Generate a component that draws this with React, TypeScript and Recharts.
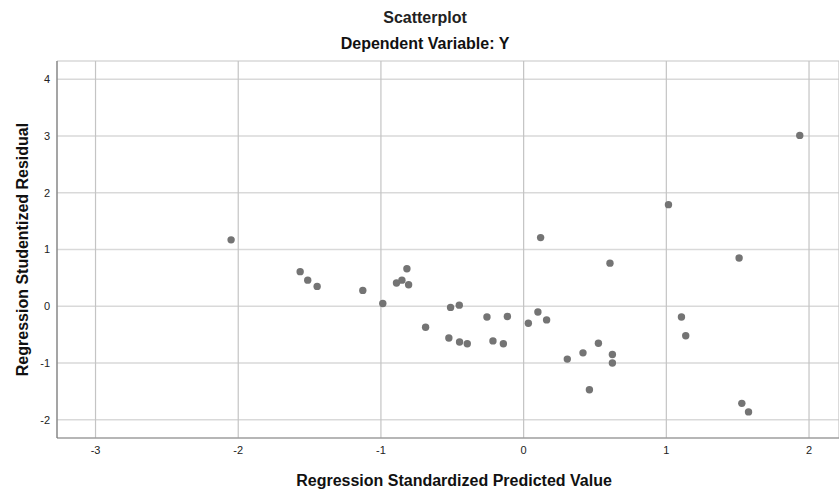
import { ScatterChart, Scatter, XAxis, YAxis, CartesianGrid } from 'recharts';

// standardized predicted value (x) and studentized residual (y), one entry per case
const predicted = [
  -2.05, -1.566, -1.513, -1.447, -1.127, -0.987, -0.891, -0.853, -0.818, -0.806,
  -0.687, -0.524, -0.512, -0.451, -0.449, -0.395, -0.257, -0.215, -0.142, -0.114,
  0.033, 0.1, 0.119, 0.161, 0.306, 0.416, 0.461, 0.524, 0.605, 0.622,
  0.622, 1.015, 1.106, 1.136, 1.51, 1.529, 1.576, 1.935,
];
const residual = [
  1.17, 0.61, 0.46, 0.35, 0.28, 0.05, 0.41, 0.46, 0.66, 0.38,
  -0.37, -0.56, -0.02, 0.02, -0.63, -0.66, -0.19, -0.61, -0.66, -0.18,
  -0.3, -0.1, 1.21, -0.24, -0.93, -0.82, -1.47, -0.65, 0.76, -0.85,
  -1.0, 1.79, -0.19, -0.52, 0.85, -1.71, -1.86, 3.01,
];

const xTicks = [-3, -2, -1, 0, 1, 2];
const yTicks = [-2, -1, 0, 1, 2, 3, 4];

const title = 'Scatterplot';
const subtitle = 'Dependent Variable: Y';
const xLabel = 'Regression Standardized Predicted Value';
const yLabel = 'Regression Studentized Residual';

const data = predicted.map((x, i) => ({ x, y: residual[i] }));

const font = '"Liberation Sans", Arial, sans-serif';

const Dot = (props: any) => <circle cx={props.cx} cy={props.cy} r={3.7} fill="#747474" />;

const App = () => {
  return (
    <div style={{ position: 'absolute', left: 0, top: 0, width: 839, height: 495, background: '#fff', fontFamily: font }}>
      <div style={{ position: 'absolute', left: 0, top: 9, width: 850, textAlign: 'center', fontSize: 16, fontWeight: 'bold', color: '#222', lineHeight: '18px' }}>
        {title}
      </div>
      <div style={{ position: 'absolute', left: 0, top: 35, width: 850, textAlign: 'center', fontSize: 16, fontWeight: 'bold', color: '#111', lineHeight: '18px' }}>
        {subtitle}
      </div>
      <ScatterChart width={839} height={495} margin={{ top: 61, right: 0, bottom: 0, left: 0 }} style={{ fontFamily: font }}>
        <CartesianGrid vertical={false} stroke="#d9d9d9" strokeWidth={1.5} />
        <CartesianGrid horizontal={false} stroke="#c4c4c4" strokeWidth={1.2} />
        <XAxis
          type="number"
          dataKey="x"
          domain={[-3.27, 2.21]}
          ticks={xTicks}
          allowDataOverflow
          height={57}
          axisLine={{ stroke: '#8a8a8a' }}
          tickLine={false}
          tick={{ fontSize: 11, fill: '#222' }}
          label={{
            content: () => (
              <text x={454} y={480} textAnchor="middle" dominantBaseline="central" fontSize={16} fontWeight="bold" fill="#111">
                {xLabel}
              </text>
            ),
          }}
        />
        <YAxis
          type="number"
          dataKey="y"
          domain={[-2.32, 4.32]}
          ticks={yTicks}
          allowDataOverflow
          width={57}
          axisLine={{ stroke: '#6e6e6e' }}
          tickLine={false}
          tickMargin={1}
          tick={{ fontSize: 11, fill: '#222' }}
          label={{
            content: () => (
              <text
                x={22}
                y={249.5}
                transform="rotate(-90 22 249.5)"
                textAnchor="middle"
                dominantBaseline="central"
                fontSize={16}
                fontWeight="bold"
                fill="#111"
              >
                {yLabel}
              </text>
            ),
          }}
        />
        <Scatter data={data} shape={Dot} isAnimationActive={false} />
      </ScatterChart>
    </div>
  );
};

export default App;
